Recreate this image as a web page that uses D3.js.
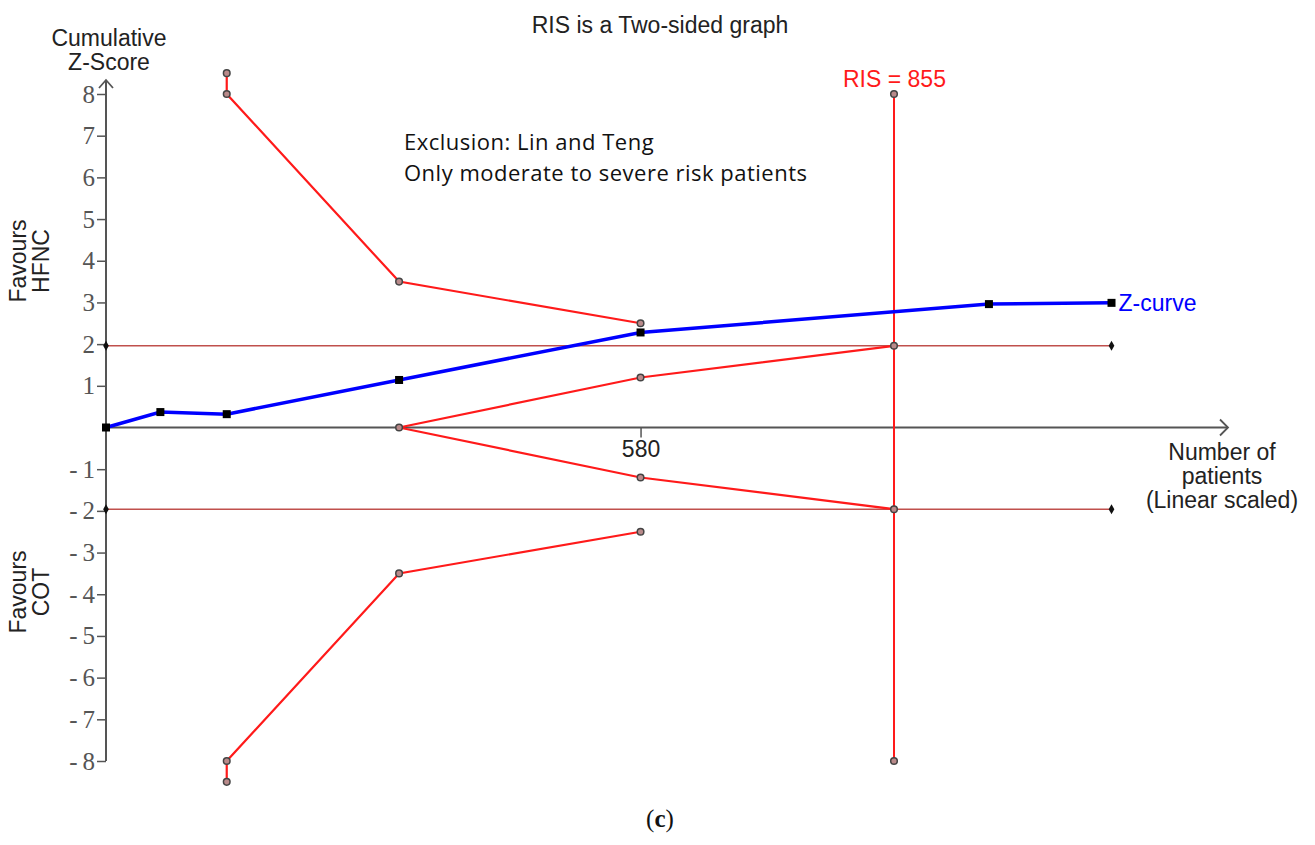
<!DOCTYPE html>
<html>
<head>
<meta charset="utf-8">
<script src="https://cdn.jsdelivr.net/npm/d3@7"></script>
<style>
  html, body { margin: 0; padding: 0; background: #fff; }
  svg { display: block; }
</style>
</head>
<body>
<svg id="chart" width="1315" height="845"></svg>
<script>
// Cumulative Z-curve (patients, Z)
const zPatients = [0, 59, 131, 318, 580, 958, 1091];
const zValues   = [0, 0.37, 0.32, 1.14, 2.28, 2.96, 2.99];

// Trial sequential monitoring boundaries (upper half; lower half mirrors it)
const boundPatients = [131, 131, 318, 580];
const boundValues   = [8.5, 8.0, 3.5, 2.5];

// Futility (inner wedge) boundaries
const futPatients = [318, 580, 855];
const futValues   = [0, 1.2, 1.96];

// Conventional significance lines
const convZ = 1.96;
const convEnd = 1091;

// Required information size
const ris = 855;
const risLabel = "RIS = 855";

// Y tick labels
const yTicks = [-8, -7, -6, -5, -4, -3, -2, -1, 1, 2, 3, 4, 5, 6, 7, 8];
const xTicks = [580];

const svg = d3.select("#chart");

const x = d3.scaleLinear().domain([0, 855]).range([106, 894]);
const y = d3.scaleLinear().domain([-8, 8]).range([761, 94]);

const AX = "#555";
const SANS = "Liberation Sans, Arial, sans-serif";
const FS = 23;

// ---- axes ----
const g = svg.append("g");

// y axis line with arrow head
g.append("line").attr("x1", x(0)).attr("x2", x(0)).attr("y1", y(-8)).attr("y2", 80)
  .attr("stroke", AX).attr("stroke-width", 2);
g.append("path").attr("d", `M${x(0)-7},${88} L${x(0)},${80} L${x(0)+7},${88}`)
  .attr("fill", "none").attr("stroke", AX).attr("stroke-width", 1.8);

const yAxis = d3.axisLeft(y).tickValues(yTicks).tickSize(9).tickPadding(2)
  .tickFormat(d => d < 0 ? "-\u2009" + Math.abs(d) : String(d));
const ya = g.append("g").attr("transform", `translate(${x(0)},0)`).call(yAxis);
ya.select(".domain").remove();
ya.selectAll(".tick line").attr("stroke", AX).attr("stroke-width", 1.5);
ya.selectAll(".tick text").attr("fill", "#555").attr("font-family", "Liberation Serif, Times New Roman, serif")
  .attr("font-size", 25);

// x axis line with arrow head
const y0 = y(0);
g.append("line").attr("x1", x(0)).attr("x2", 1228).attr("y1", y0).attr("y2", y0)
  .attr("stroke", AX).attr("stroke-width", 2);
g.append("path").attr("d", `M1220,${y0-8} L1228,${y0} L1220,${y0+8}`)
  .attr("fill", "none").attr("stroke", AX).attr("stroke-width", 1.8);

const xAxis = d3.axisBottom(x).tickValues(xTicks).tickSize(10).tickPadding(3);
const xa = g.append("g").attr("transform", `translate(0,${y0})`).call(xAxis);
xa.select(".domain").remove();
xa.selectAll(".tick line").attr("stroke", AX).attr("stroke-width", 1.5);
xa.selectAll(".tick text").attr("fill", "#222").attr("font-family", SANS).attr("font-size", FS);

// ---- conventional boundaries ±1.96 ----
[convZ, -convZ].forEach(v => {
  svg.append("line").attr("x1", x(0)).attr("x2", x(convEnd)).attr("y1", y(v)).attr("y2", y(v))
    .attr("stroke", "#c0504d").attr("stroke-width", 1.6);
});

// ---- RIS vertical line ----
svg.append("line").attr("x1", x(ris)).attr("x2", x(ris)).attr("y1", y(8)).attr("y2", y(-8))
  .attr("stroke", "#ff1a1a").attr("stroke-width", 2);

// ---- monitoring and futility boundaries ----
const line = d3.line().x(d => x(d[0])).y(d => y(d[1]));
const upper = boundPatients.map((p, i) => [p, boundValues[i]]);
const lower = boundPatients.map((p, i) => [p, -boundValues[i]]);
const futUp = futPatients.map((p, i) => [p, futValues[i]]);
const futLo = futPatients.map((p, i) => [p, -futValues[i]]);

[upper, lower, futUp, futLo].forEach(pts => {
  svg.append("path").attr("d", line(pts)).attr("fill", "none")
    .attr("stroke", "#ff1a1a").attr("stroke-width", 2.2);
});

// ---- Z-curve ----
const zPts = zPatients.map((p, i) => [p, zValues[i]]);
svg.append("path").attr("d", line(zPts)).attr("fill", "none")
  .attr("stroke", "#0000ff").attr("stroke-width", 3.5);

// ---- markers ----
function ringMarker(pts) {
  svg.selectAll(null).data(pts).enter().append("circle")
    .attr("cx", d => x(d[0])).attr("cy", d => y(d[1])).attr("r", 3.3)
    .attr("fill", "#b98a8a").attr("stroke", "#444").attr("stroke-width", 1.5);
}
ringMarker(upper);
ringMarker(lower);
ringMarker(futUp.slice(1));
ringMarker(futLo.slice(1));
ringMarker([[ris, 8], [ris, -8]]);
ringMarker([[futPatients[0], 0]]);

// diamonds at the ends of the ±1.96 lines
const diamond = d3.symbol().type(d3.symbolDiamond).size(28);
[[0, convZ], [0, -convZ], [convEnd, convZ], [convEnd, -convZ]].forEach(d => {
  svg.append("path").attr("d", diamond).attr("transform", `translate(${x(d[0])},${y(d[1])})`)
    .attr("fill", "#111");
});

// squares on the Z-curve
svg.selectAll(null).data(zPts).enter().append("rect")
  .attr("x", d => x(d[0]) - 4).attr("y", d => y(d[1]) - 4)
  .attr("width", 8).attr("height", 8).attr("fill", "#000");

// ---- text ----
svg.append("text").attr("x", 660).attr("y", 33).attr("text-anchor", "middle")
  .attr("font-family", SANS).attr("font-size", FS).attr("fill", "#222")
  .text("RIS is a Two-sided graph");

const yTitle = svg.append("text").attr("text-anchor", "middle")
  .attr("font-family", SANS).attr("font-size", FS).attr("fill", "#222");
yTitle.append("tspan").attr("x", 109).attr("y", 46).text("Cumulative");
yTitle.append("tspan").attr("x", 109).attr("y", 70).text("Z-Score");

function sideLabel(cy, lines) {
  const t = svg.append("text").attr("text-anchor", "middle")
    .attr("transform", `translate(0,${cy}) rotate(-90)`)
    .attr("font-family", SANS).attr("font-size", FS).attr("fill", "#222");
  t.append("tspan").attr("x", 0).attr("y", 26).text(lines[0]);
  t.append("tspan").attr("x", 0).attr("y", 49).text(lines[1]);
}
sideLabel(261, ["Favours", "HFNC"]);
sideLabel(592, ["Favours", "COT"]);

const xTitle = svg.append("text").attr("text-anchor", "middle")
  .attr("font-family", SANS).attr("font-size", FS).attr("fill", "#222");
xTitle.append("tspan").attr("x", 1222).attr("y", 460).text("Number of");
xTitle.append("tspan").attr("x", 1222).attr("y", 484).text("patients");
xTitle.append("tspan").attr("x", 1222).attr("y", 508).text("(Linear scaled)");

svg.append("text").attr("x", x(convEnd) + 7).attr("y", y(zValues[zValues.length - 1]) + 8)
  .attr("font-family", SANS).attr("font-size", FS).attr("fill", "#0000ff").text("Z-curve");

svg.append("text").attr("x", x(ris) - 51).attr("y", 87)
  .attr("font-family", SANS).attr("font-size", FS).attr("fill", "#ff1a1a").text(risLabel);

const note = svg.append("text").attr("font-family", "Open Sans, sans-serif")
  .attr("font-size", 22).attr("letter-spacing", 0.5).attr("fill", "#111");
note.append("tspan").attr("x", 404).attr("y", 150).text("Exclusion: Lin and Teng");
note.append("tspan").attr("x", 404).attr("y", 181).text("Only moderate to severe risk patients");

const cap = svg.append("text").attr("x", 660).attr("y", 827).attr("text-anchor", "middle")
  .attr("font-family", "Liberation Serif, serif").attr("font-size", 25).attr("fill", "#111");
cap.append("tspan").text("(");
cap.append("tspan").attr("font-weight", "bold").text("c");
cap.append("tspan").text(")");
</script>
</body>
</html>
